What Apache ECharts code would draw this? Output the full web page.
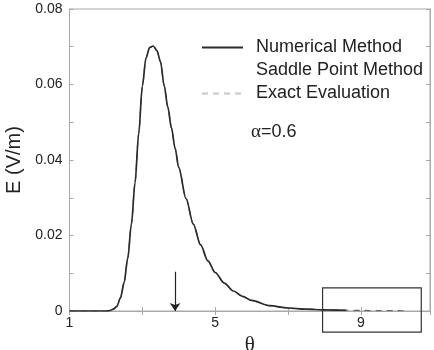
<!DOCTYPE html>
<html>
<head>
<meta charset="utf-8">
<script src="https://cdn.jsdelivr.net/npm/echarts@6/dist/echarts.min.js"></script>
<style>
  html, body { margin: 0; padding: 0; background: #fff; }
  #main { width: 434px; height: 350px; }
</style>
</head>
<body>
<div id="main"></div>
<script>
// theta values and field (V/m)
const theta = [1.0, 1.5, 2.0, 2.1, 2.2, 2.3, 2.4, 2.5, 2.6, 2.7, 2.8, 2.9, 3.0, 3.1, 3.2, 3.3, 3.4, 3.5,
  3.6, 3.7, 3.8, 3.9, 4.0, 4.2, 4.4, 4.6, 4.8, 5.0, 5.25, 5.5, 5.75, 6.0, 6.5, 7.0, 7.5, 8.0, 8.6];
const numericalE = [0, 0, 0, 0.0001, 0.0005, 0.0012, 0.0035, 0.0075, 0.0140, 0.0230, 0.0340, 0.0470,
  0.0595, 0.0670, 0.0698, 0.0702, 0.0690, 0.0660, 0.0597, 0.0540, 0.0485, 0.0431, 0.0380, 0.0298,
  0.0230, 0.0175, 0.0133, 0.0102, 0.0074, 0.0053, 0.0039, 0.0028, 0.0014, 0.0008, 0.0005, 0.0003, 0.0002];
const saddleE = numericalE;
// exact evaluation runs a bit further to the right
const exactTailTheta = [9.0, 9.5, 10.3];
const exactTailE = [0.00015, 0.0001, 0.00005];

const seriesNames = ['Numerical Method', 'Saddle Point Method', 'Exact Evaluation'];
const xTickLabels = [1, 5, 9];
const arrowAt = [3.9, 0.0104];
const zoomBox = [7.95, 10.66, -0.0056, 0.0061]; // theta from, theta to, E from, E to

const pairs = (xs, ys) => xs.map((x, i) => [x, ys[i]]);

const chart = echarts.init(document.getElementById('main'));

const axisGray = '#a8a8a8';
const font = 'Liberation Sans, Arial, sans-serif';

const option = {
    animation: false,
    backgroundColor: '#fff',
    textStyle: {fontFamily: font},
    grid: {
        left: 69.5, right: 4, top: 9, bottom: 39,
        outerBoundsMode: 'none',
        show: true, borderColor: axisGray, borderWidth: 1
    },
    legend: {
        left: 196,
        top: 31,
        orient: 'vertical',
        itemWidth: 41,
        itemHeight: 14,
        itemGap: 0,
        itemStyle: {opacity: 0},
        textStyle: {fontSize: 18, color: '#222', lineHeight: 23, padding: [0, 0, 0, 8], fontFamily: font},
        data: [
            {name: seriesNames[0]},
            {name: seriesNames[1], lineStyle: {opacity: 0}},
            {name: seriesNames[2], lineStyle: {color: '#c8c8c8'}}
        ]
    },
    xAxis: [{
        type: 'value',
        min: 1,
        max: 10.9,
        interval: 2,
        name: 'θ',
        nameLocation: 'middle',
        nameGap: 18,
        nameTextStyle: {fontSize: 21, color: '#222', fontFamily: 'Liberation Serif, serif'},
        axisLine: {lineStyle: {color: '#9fb0c0'}},
        axisTick: {inside: true, length: 4, lineStyle: {color: axisGray}},
        splitLine: {show: false},
        axisLabel: {
            margin: 5,
            fontSize: 14,
            color: '#222',
            showMaxLabel: false,
            formatter: v => xTickLabels.includes(Math.round(v)) ? String(Math.round(v)) : ''
        }
    }, {
        type: 'value',
        position: 'top',
        min: 1,
        max: 10.9,
        interval: 2,
        axisLine: {lineStyle: {color: axisGray}},
        axisTick: {inside: true, length: 4, lineStyle: {color: axisGray}},
        axisLabel: {show: false},
        splitLine: {show: false}
    }],
    yAxis: [{
        type: 'value',
        min: 0,
        max: 0.08,
        interval: 0.01,
        name: 'E (V/m)',
        nameLocation: 'middle',
        nameGap: 42,
        nameTextStyle: {fontSize: 20, color: '#222'},
        axisLine: {show: true, lineStyle: {color: axisGray}},
        axisTick: {show: true, inside: true, length: 4, lineStyle: {color: axisGray}},
        splitLine: {show: false},
        axisLabel: {
            margin: 7,
            fontSize: 14,
            color: '#222',
            formatter: v => {
                const k = Math.round(v * 100);
                if (k % 2) return '';
                return k === 0 ? '0' : v.toFixed(2);
            }
        }
    }, {
        type: 'value',
        position: 'right',
        min: 0,
        max: 0.08,
        interval: 0.01,
        axisLine: {show: true, lineStyle: {color: axisGray}},
        axisTick: {show: true, inside: true, length: 4, lineStyle: {color: axisGray}},
        axisLabel: {show: false},
        splitLine: {show: false}
    }],
    series: [
        {
            name: seriesNames[1],
            type: 'line',
            symbol: 'none',
            smooth: 0.3,
            smoothMonotone: 'x',
            z: 1,
            color: '#bbb',
            data: pairs(theta, saddleE),
            lineStyle: {color: '#ccc', width: 1, type: 'dotted'}
        },
        {
            name: seriesNames[0],
            type: 'line',
            symbol: 'none',
            smooth: 0.3,
            smoothMonotone: 'x',
            z: 3,
            color: '#2b2b2b',
            data: pairs(theta, numericalE),
            lineStyle: {color: '#2b2b2b', width: 1.7},
            markLine: {
                silent: true,
                symbol: ['none', 'arrow'],
                symbolSize: 8,
                label: {show: false},
                lineStyle: {color: '#222', width: 1.2, type: 'solid'},
                data: [[{coord: arrowAt}, {coord: [arrowAt[0], 0]}]]
            }
        },
        {
            name: seriesNames[2],
            type: 'line',
            symbol: 'none',
            smooth: 0.3,
            smoothMonotone: 'x',
            z: 2,
            color: '#666',
            data: pairs(theta.concat(exactTailTheta), numericalE.concat(exactTailE)),
            lineStyle: {color: '#666', width: 1.2, type: [6, 5]}
        }
    ]
};

chart.setOption(option);

// the zoom box and the alpha note, placed in data coordinates
const p0 = chart.convertToPixel({gridIndex: 0}, [zoomBox[0], zoomBox[3]]);
const p1 = chart.convertToPixel({gridIndex: 0}, [zoomBox[1], zoomBox[2]]);
chart.setOption({
    graphic: [
        {
            type: 'rect',
            shape: {x: p0[0], y: p0[1], width: p1[0] - p0[0], height: p1[1] - p0[1]},
            style: {fill: 'none', stroke: '#333', lineWidth: 1.2},
            z: 10
        },
        {
            type: 'text',
            left: 251,
            top: 123,
            style: {
                text: '{a|α}=0.6',
                fontSize: 18,
                fontFamily: font,
                fill: '#222',
                rich: {a: {fontSize: 19, fontFamily: 'Liberation Serif, serif', fill: '#222'}}
            }
        }
    ]
});
</script>
</body>
</html>
